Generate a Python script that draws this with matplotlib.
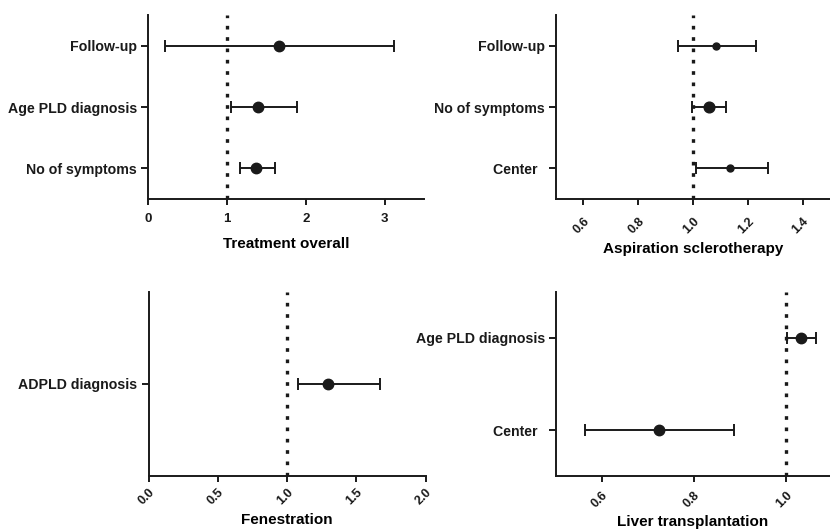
import matplotlib.pyplot as plt

plt.rcParams['font.family'] = ['Liberation Sans', 'DejaVu Sans']
plt.rcParams['font.weight'] = 'bold'

# Treatment overall
treat_labels = ['Follow-up', 'Age PLD diagnosis', 'No of symptoms']
treat_or = [1.66, 1.40, 1.37]
treat_lo = [0.21, 1.05, 1.17]
treat_hi = [3.12, 1.89, 1.61]

# Aspiration sclerotherapy
asp_labels = ['Follow-up', 'No of symptoms', 'Center  ']
asp_or = [1.085, 1.06, 1.136]
asp_lo = [0.945, 0.998, 1.012]
asp_hi = [1.229, 1.121, 1.275]
asp_size = [5, 7.7, 5]

# Fenestration
fen_labels = ['ADPLD diagnosis']
fen_or = [1.297]
fen_lo = [1.08]
fen_hi = [1.67]

# Liver transplantation
lt_labels = ['Age PLD diagnosis', 'Center  ']
lt_or = [1.034, 0.724]
lt_lo = [1.003, 0.564]
lt_hi = [1.065, 0.887]

W, H = 830, 531
fig = plt.figure(figsize=(W / 100, H / 100), dpi=100)
INK = '#1a1a1a'


def px_axes(x0, y0, x1, y1):
    return fig.add_axes([x0 / W, 1 - y1 / H, (x1 - x0) / W, (y1 - y0) / H])


def forest(ax, labels, ors, los, his, sizes, xlim, xticks, ticklabels, xlabel,
           rot, xpad, labelpad):
    n = len(labels)
    ys = list(range(n, 0, -1))
    for y, o, lo, hi, s in zip(ys, ors, los, his, sizes):
        ax.errorbar([o], [y], xerr=[[o - lo], [hi - o]], fmt='o', color=INK,
                    ms=s, elinewidth=1.4, capsize=4.3, capthick=1.4)
    ax.axvline(1.0, color=INK, lw=2.4, linestyle=(0, (1.1, 2.3)), zorder=0)
    ax.set_xlim(*xlim)
    ax.set_ylim(0.5, n + 0.5)
    ax.set_yticks(ys)
    ax.set_yticklabels(labels, fontsize=10.2, fontweight='bold')
    ax.set_xticks(xticks)
    if rot:
        ax.set_xticklabels(ticklabels, rotation=45, ha='right', va='top',
                           rotation_mode='anchor', fontsize=9, fontweight='bold')
    else:
        ax.set_xticklabels(ticklabels, fontsize=9.5, fontweight='bold')
    ax.set_xlabel(xlabel, fontsize=11, fontweight='bold', labelpad=labelpad)
    for sp in ['top', 'right']:
        ax.spines[sp].set_visible(False)
    for sp in ['left', 'bottom']:
        ax.spines[sp].set_linewidth(1.4)
        ax.spines[sp].set_color(INK)
    ax.tick_params(axis='both', colors=INK, width=1.4)
    ax.tick_params(axis='y', length=5, pad=3)
    ax.tick_params(axis='x', length=4, pad=xpad)
    ax.patch.set_alpha(0)


ax1 = px_axes(148, 15, 424, 199)
forest(ax1, treat_labels, treat_or, treat_lo, treat_hi, [7.5, 7.5, 7.5],
       (0, 3.5), [0, 1, 2, 3], ['0', '1', '2', '3'], 'Treatment overall',
       False, 6, 9)

ax2 = px_axes(556, 15, 830, 199)
forest(ax2, asp_labels, asp_or, asp_lo, asp_hi, asp_size,
       (0.5, 1.5), [0.6, 0.8, 1.0, 1.2, 1.4], ['0.6', '0.8', '1.0', '1.2', '1.4'],
       'Aspiration sclerotherapy', True, 8, 4)

ax3 = px_axes(148.7, 292, 425.7, 476)
forest(ax3, fen_labels, fen_or, fen_lo, fen_hi, [7.5],
       (0, 2.0), [0.0, 0.5, 1.0, 1.5, 2.0], ['0.0', '0.5', '1.0', '1.5', '2.0'],
       'Fenestration', True, 3.6, 4)

ax4 = px_axes(556, 292, 830, 476)
forest(ax4, lt_labels, lt_or, lt_lo, lt_hi, [7.5, 7.5],
       (0.5, 1.096), [0.6, 0.8, 1.0], ['0.6', '0.8', '1.0'],
       'Liver transplantation', True, 5.8, 3)

fig.savefig('out.png', dpi=100)
